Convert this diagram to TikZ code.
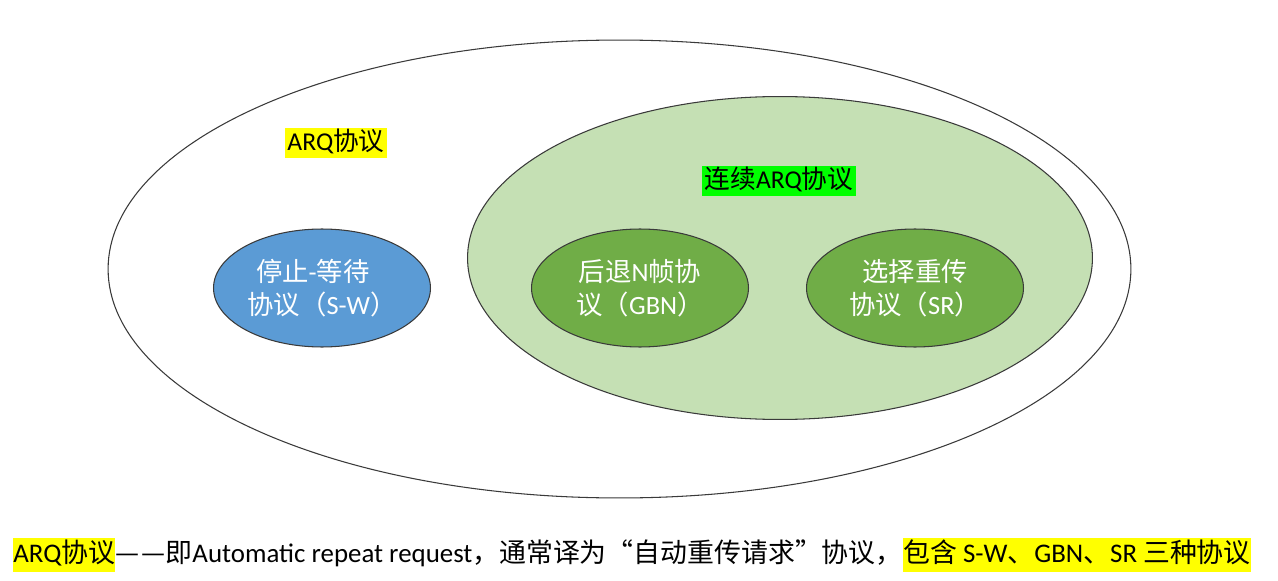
\documentclass[tikz,border=0pt]{standalone}
\usepackage{fontspec}
\setmainfont{Carlito}
\newfontfamily\cjk{Noto Sans CJK SC}
\usetikzlibrary{shapes.geometric,positioning}
\newcommand{\zh}[1]{{\cjk #1}}
\definecolor{swblue}{HTML}{5B9BD5}
\definecolor{arqgreen}{HTML}{C5E0B4}
\definecolor{subgreen}{HTML}{70AD47}
\definecolor{hlyellow}{HTML}{FFFF00}
\definecolor{hlgreen}{HTML}{00FF00}
\definecolor{rimgray}{HTML}{3A3A3A}

\begin{document}
\begin{tikzpicture}[x=0.02cm,y=-0.02cm,
  set/.style={ellipse,draw=rimgray,line width=0.6pt,inner sep=0pt},
  proto/.style={set,minimum width=4.34cm,minimum height=2.36cm,text=white,
    align=center,font=\fontsize{15}{18.5}\selectfont},
  tag/.style={inner xsep=1.5pt,inner ysep=0pt,text height=13pt,text depth=4.5pt,
    font=\fontsize{14.6}{17}\selectfont},
  note/.style={inner xsep=0pt,inner ysep=0pt,text height=13.6pt,text depth=5.7pt,
    anchor=base west,font=\fontsize{15.3}{18}\selectfont}]
  \useasboundingbox (0,0) rectangle (1278,581);

  % sets
  \node[set,fill=white,minimum width=20.46cm,minimum height=9.16cm] (arq) at (619.5,269) {};
  \node[set,fill=arqgreen,minimum width=12.5cm,minimum height=6.46cm] (cont) at (780,258) {};

  % labels
  \node[tag,fill=hlyellow] (arqtag) at (336,143) {ARQ\zh{协议}};
  \node[tag,fill=hlgreen] (conttag) at (779,181) {\zh{连续}ARQ\zh{协议}};

  % protocols
  \node[proto,fill=swblue] (sw) at (322,288) {\zh{停止}-\zh{等待}\hspace*{0.7em}\\\zh{协议（}S-W\zh{）}};
  \node[proto,fill=subgreen] (gbn) at (640,288) {\zh{后退}N\zh{帧协}\\\zh{议（}GBN\zh{）}};
  \node[proto,fill=subgreen] (sr) at (915,288) {\zh{选择重传}\\\zh{协议（}SR\zh{）}};

  % definition line
  \node[note,fill=hlyellow] (def1) at (13,562) {ARQ\zh{协议}};
  \node[note] (def2) at (def1.base east) {\zh{—}\kern1pt\zh{—即}Automatic repeat request\zh{，通常译为“自动重传请求”协议，}};
  \node[note,fill=hlyellow] (def3) at (def2.base east) {\zh{包含} S-W\zh{、}GBN\zh{、}SR \zh{三种协议}};
\end{tikzpicture}
\end{document}
